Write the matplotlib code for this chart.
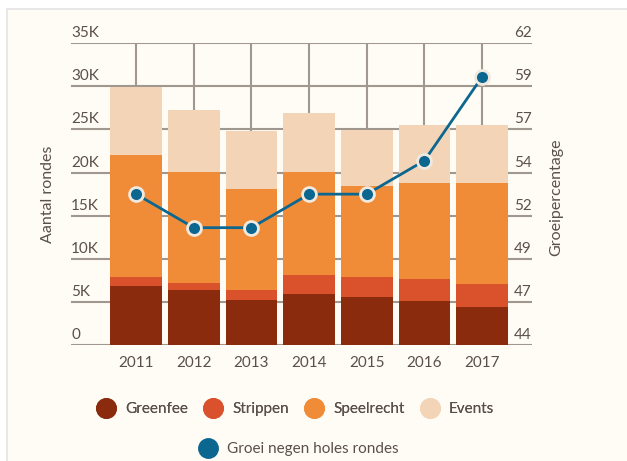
import matplotlib.pyplot as plt
from matplotlib.lines import Line2D
from matplotlib.patches import Rectangle
import numpy as np

years = ['2011', '2012', '2013', '2014', '2015', '2016', '2017']
greenfee = [6860, 6400, 5230, 5930, 5580, 5120, 4420]
strippen = [1040, 810, 1170, 2210, 2320, 2550, 2670]
speelrecht = [14190, 12910, 11740, 11980, 10590, 11170, 11750]
events = [7790, 7090, 6630, 6820, 6510, 6630, 6630]
groei = [53.0, 51.0, 51.0, 53.0, 53.0, 55.0, 60.0]

left_ticks = [0, 5000, 10000, 15000, 20000, 25000, 30000, 35000]
left_labels = ['0', '5K', '10K', '15K', '20K', '25K', '30K', '35K']
right_labels = ['44', '47', '49', '52', '54', '57', '59', '62']

colors = ['#8a2b0e', '#d9522b', '#f08c38', '#f3d4b6']
names = ['Greenfee', 'Strippen', 'Speelrecht', 'Events']
line_col = '#0b6790'
bg = '#fffcf5'
grid_col = '#a0978f'
txt_col = '#5a5049'

plt.rcParams['font.family'] = ['Lato', 'DejaVu Sans']

fig = plt.figure(figsize=(6.27, 4.61), dpi=100)
fig.patch.set_facecolor('white')
bgrect = Rectangle((7 / 627, -0.01), 1, 1.01 - 9 / 461, transform=fig.transFigure,
                   facecolor=bg, edgecolor='#e3e3e6', linewidth=1.2, zorder=-10)
fig.add_artist(bgrect)

ax = fig.add_axes([71 / 627, 1 - 345 / 461, 460.7 / 627, 301.7 / 461])
ax.set_facecolor('none')
x = np.arange(len(years))

# grid behind the bars
for t in left_ticks:
    ax.axhline(t, color=grid_col, lw=1.5, zorder=0)
for xi in x:
    ax.plot([xi, xi], [0, 35000], color=grid_col, lw=1.5, zorder=0)

bottom = np.zeros(len(years))
for vals, c in zip([greenfee, strippen, speelrecht, events], colors):
    ax.bar(x, vals, width=0.9, bottom=bottom, color=c, zorder=2)
    bottom += np.array(vals)

ax.set_xlim(-1.13, 6.86)
ax.set_ylim(0, 35000)
for s in ax.spines.values():
    s.set_visible(False)
ax.set_yticks([])
ax.set_xticks(x)
ax.set_xticklabels(years, fontsize=11, color=txt_col)
ax.tick_params(axis='x', length=0, pad=8)

for t, lab in zip(left_ticks, left_labels):
    ax.text(0, t + 350, lab, transform=ax.get_yaxis_transform(), ha='left', va='bottom',
            fontsize=11, color=txt_col)

ax2 = ax.twinx()
ax2.set_ylim(44, 62)
for s in ax2.spines.values():
    s.set_visible(False)
ax2.set_yticks([])
rt = np.linspace(44, 62, 8)
for t, lab in zip(rt, right_labels):
    ax2.text(1, t + 0.18, lab, transform=ax2.get_yaxis_transform(), ha='right', va='bottom',
             fontsize=11, color=txt_col)
ax2.plot(x, groei, color=line_col, lw=2, marker='o', markersize=10,
         markerfacecolor=line_col, markeredgecolor='#efe9df', markeredgewidth=2, zorder=5)

fig.text(48 / 627, 1 - 194 / 461, 'Aantal rondes', rotation=90, ha='center', va='center',
         fontsize=11.5, color=txt_col)
fig.text(556 / 627, 1 - 197 / 461, 'Groeipercentage', rotation=90, ha='center', va='center',
         fontsize=11.5, color=txt_col)

h1 = [Line2D([], [], ls='none', marker='o', markersize=14, markerfacecolor=c,
             markeredgecolor=c) for c in colors]
leg1 = fig.legend(h1, names, loc='center', bbox_to_anchor=(295 / 627, 1 - 409 / 461), ncol=4,
                  frameon=False, fontsize=11, labelcolor=txt_col, handletextpad=0.6,
                  columnspacing=1.0, handlelength=1.3)
h2 = [Line2D([], [], ls='none', marker='o', markersize=14, markerfacecolor=line_col,
             markeredgecolor=line_col)]
fig.legend(h2, ['Groei negen holes rondes'], loc='center', bbox_to_anchor=(298 / 627, 1 - 449 / 461),
           frameon=False, fontsize=11, labelcolor=txt_col, handletextpad=0.6, handlelength=1.3)
fig.add_artist(leg1)

fig.savefig('out.png', dpi=100, facecolor='white')
